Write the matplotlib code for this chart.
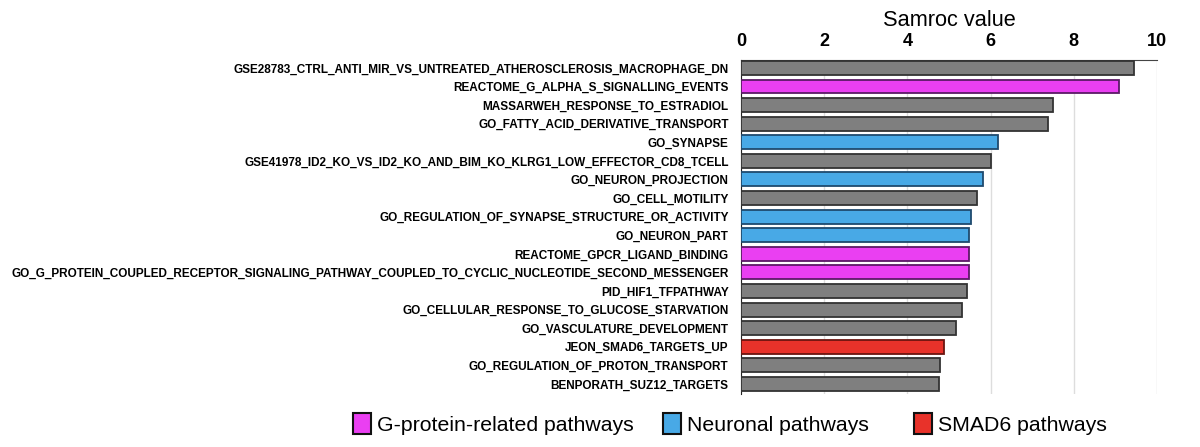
import matplotlib.pyplot as plt
from matplotlib.patches import Patch

plt.rcParams['font.family'] = ['Liberation Sans', 'DejaVu Sans']

pathways = [
    "GSE28783_CTRL_ANTI_MIR_VS_UNTREATED_ATHEROSCLEROSIS_MACROPHAGE_DN",
    "REACTOME_G_ALPHA_S_SIGNALLING_EVENTS",
    "MASSARWEH_RESPONSE_TO_ESTRADIOL",
    "GO_FATTY_ACID_DERIVATIVE_TRANSPORT",
    "GO_SYNAPSE",
    "GSE41978_ID2_KO_VS_ID2_KO_AND_BIM_KO_KLRG1_LOW_EFFECTOR_CD8_TCELL",
    "GO_NEURON_PROJECTION",
    "GO_CELL_MOTILITY",
    "GO_REGULATION_OF_SYNAPSE_STRUCTURE_OR_ACTIVITY",
    "GO_NEURON_PART",
    "REACTOME_GPCR_LIGAND_BINDING",
    "GO_G_PROTEIN_COUPLED_RECEPTOR_SIGNALING_PATHWAY_COUPLED_TO_CYCLIC_NUCLEOTIDE_SECOND_MESSENGER",
    "PID_HIF1_TFPATHWAY",
    "GO_CELLULAR_RESPONSE_TO_GLUCOSE_STARVATION",
    "GO_VASCULATURE_DEVELOPMENT",
    "JEON_SMAD6_TARGETS_UP",
    "GO_REGULATION_OF_PROTON_TRANSPORT",
    "BENPORATH_SUZ12_TARGETS",
]
samroc = [9.44, 9.08, 7.51, 7.39, 6.17, 6.01, 5.82, 5.68, 5.54, 5.48,
          5.48, 5.49, 5.44, 5.31, 5.16, 4.88, 4.79, 4.76]
group = ["other", "gprot", "other", "other", "neuro", "other", "neuro", "other",
         "neuro", "neuro", "gprot", "gprot", "other", "other", "other", "smad6",
         "other", "other"]

colors = {"other": "#7f7f7f", "gprot": "#ea3ff2", "neuro": "#48a9e6", "smad6": "#e8322a"}
edges = {"other": "#333333", "gprot": "#5a1a66", "neuro": "#1f4a6e", "smad6": "#6b1510"}
legend_labels = {"gprot": "G-protein-related pathways", "neuro": "Neuronal pathways",
                 "smad6": "SMAD6 pathways"}
# left edge of each legend entry (figure fraction)
legend_x = {"gprot": 0.294, "neuro": 0.5525, "smad6": 0.7617}

fig = plt.figure(figsize=(12, 4.47), dpi=100)
ax = fig.add_axes([0.6175, 0.1186, 0.3467, 0.7474])

ypos = list(range(len(pathways)))
ax.barh(ypos, samroc, height=0.75,
        color=[colors[g] for g in group],
        edgecolor=[edges[g] for g in group], linewidth=1.3, zorder=3)

ax.set_xlim(0, 10)
ax.set_ylim(17.54, -0.43)
ax.set_yticks(ypos)
ax.set_yticklabels(pathways, fontsize=8.45, fontweight='bold')
ax.xaxis.tick_top()
ax.xaxis.set_label_position('top')
ax.set_xticks([0, 2, 4, 6, 8, 10])
ax.set_xticklabels(["0", "2", "4", "6", "8", "10"], fontsize=13, fontweight='bold')
ax.set_xlabel("Samroc value", fontsize=15.7, labelpad=5)
ax.tick_params(axis='y', length=0, pad=9)
ax.tick_params(axis='x', length=0, pad=7)

ax.grid(axis='x', color='#dddddd', linewidth=1, zorder=0)
for s in ['right', 'bottom']:
    ax.spines[s].set_visible(False)
ax.spines['top'].set_color('#444444')
ax.spines['left'].set_color('#222222')

for k, v in legend_labels.items():
    h = Patch(facecolor=colors[k], edgecolor='#111111', linewidth=1.5, label=v)
    fig.legend(handles=[h], loc='center left', bbox_to_anchor=(legend_x[k], 0.052),
               frameon=False, fontsize=15.3, handlelength=0.85, handleheight=1.15,
               handletextpad=0.3, borderaxespad=0, borderpad=0)

fig.savefig("out.png", dpi=100)
